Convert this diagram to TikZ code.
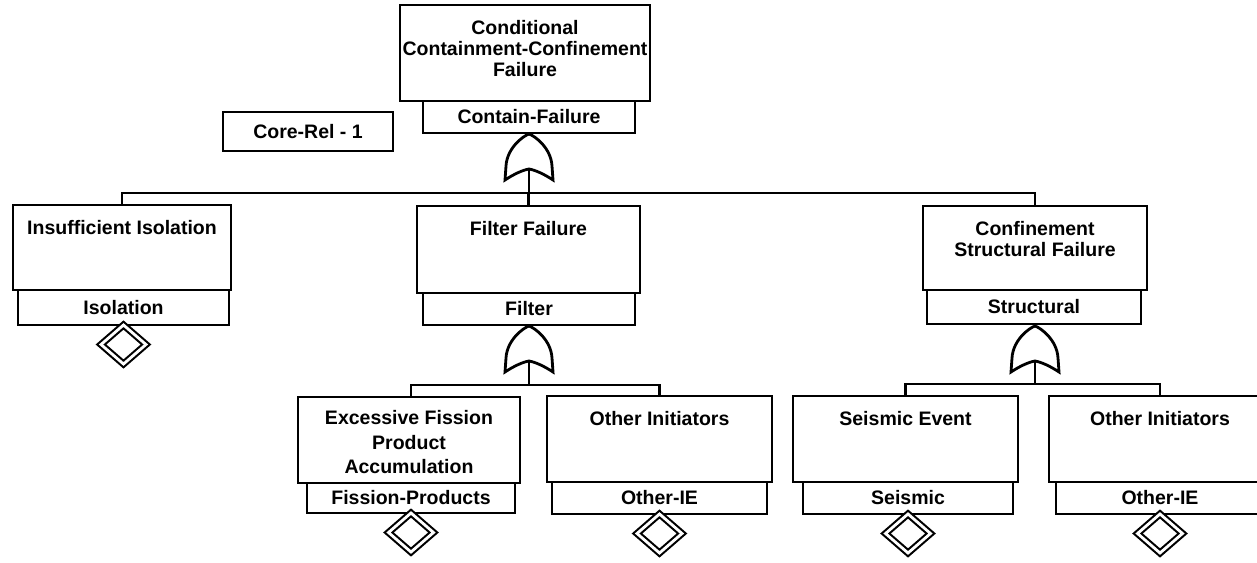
\documentclass[tikz,border=0pt]{standalone}
\usepackage{fontspec}
\setmainfont{Liberation Sans}
\usetikzlibrary{shapes.geometric}

% event box: name, x1, y1, x2, y2, text (text hangs from the top edge)
\newcommand\eventbox[6]{%
  \node[evbox, minimum width={#4-#2}, minimum height={#5-#3}] (#1) at ({(#2+#4)/2},{(#3+#5)/2}) {};
  \node[evtext] (#1-t) at ([yshift=-14pt]#1.north) {#6};}
% identifier box: name, x1, y1, x2, y2, text
\newcommand\idlabel[6]{%
  \node[idbox, minimum width={#4-#2}, minimum height={#5-#3}] (#1) at ({(#2+#4)/2},{(#3+#5)/2}) {#6};}

\begin{document}
\begin{tikzpicture}[x=1pt, y=-1pt,
  line width=2.8pt, line join=miter,
  ftfont/.style={font=\bfseries\fontsize{19.5}{21}\selectfont},
  evbox/.style={draw, rectangle, inner sep=0pt, outer sep=0pt},
  evtext/.style={ftfont, align=center, inner sep=0pt, anchor=north},
  idbox/.style={draw, rectangle, inner sep=0pt, outer sep=0pt, ftfont},
  basic/.style={draw, diamond, double=white, double distance=2.8pt, line width=2.1pt,
    inner sep=0pt, outer sep=0pt, minimum width=45pt, minimum height=39pt, anchor=north},
  orgate/.pic={
    \draw[line width=2.8pt, fill=white] (0,0) .. controls (-6,2) and (-22,14) .. (-23,32)
      -- (-24,46) .. controls (-15,40) and (-6,36) .. (0,35)
      .. controls (6,36) and (15,40) .. (24,46) -- (23,32)
      .. controls (22,14) and (6,2) .. cycle;
    \coordinate (-out) at (0,35);
  }
]
\useasboundingbox (0,0) rectangle (1257,562);

% top event
\eventbox{cf}{400}{5}{650}{101}{Conditional\\Containment-Confinement\\Failure}
\idlabel{cf-l}{423}{101}{635}{133}{Contain-Failure}
\idlabel{core}{223}{112}{393}{151}{Core-Rel - 1}
\pic (g1) at ([yshift=-1pt]cf-l.south) {orgate};

% second level
\eventbox{ii}{13}{205}{231}{290}{Insufficient Isolation}
\idlabel{ii-l}{18}{290}{229}{325}{Isolation}
\node[basic] (ii-d) at (ii-l.south) {};

\eventbox{ff}{417}{206}{640}{293}{Filter Failure}
\idlabel{ff-l}{423}{293}{635}{325}{Filter}
\pic (g2) at ([yshift=-1pt]ff-l.south) {orgate};

\eventbox{cs}{923}{206}{1147}{290}{Confinement\\Structural Failure}
\idlabel{cs-l}{927}{290}{1141}{324}{Structural}
\pic (g3) at ([yshift=-2pt]cs-l.south -| cs.north) {orgate};

% third level under Filter
\node[evbox, minimum width=222pt, minimum height=86pt] (ef) at (409,440) {};
\node[evtext, font=\bfseries\fontsize{19.5}{24.5}\selectfont] (ef-t) at ([yshift=-12pt]ef.north)
  {Excessive Fission\\Product\\Accumulation};
\idlabel{ef-l}{307}{483}{515}{513}{Fission-Products}
\node[basic] (ef-d) at (ef-l.south) {};

\eventbox{oa}{547}{396}{772}{482}{Other Initiators}
\idlabel{oa-l}{552}{482}{767}{514}{Other-IE}
\node[basic] (oa-d) at (oa-l.south) {};

% third level under Structural
\eventbox{se}{793}{396}{1018}{482}{Seismic Event}
\idlabel{se-l}{803}{482}{1013}{514}{Seismic}
\node[basic] (se-d) at (se-l.south) {};

\eventbox{ob}{1049}{396}{1271}{482}{Other Initiators}
\idlabel{ob-l}{1056}{482}{1264}{514}{Other-IE}
\node[basic] (ob-d) at (ob-l.south) {};

% connectors
\coordinate (bar1) at (g1-out |- 0,193);
\draw (g1-out) -- (bar1);
\draw (ii.north) |- (bar1) -| (cs.north);
\draw (ff.north) -- (ff.north |- bar1);

\coordinate (bar2) at (g2-out |- 0,385);
\draw (g2-out) -- (bar2);
\draw (ef.north -| ef-d) |- (bar2) -| (oa.north);

\coordinate (bar3) at (g3-out |- 0,384);
\draw (g3-out) -- (bar3);
\draw (se.north) |- (bar3) -| (ob.north);
\end{tikzpicture}
\end{document}
